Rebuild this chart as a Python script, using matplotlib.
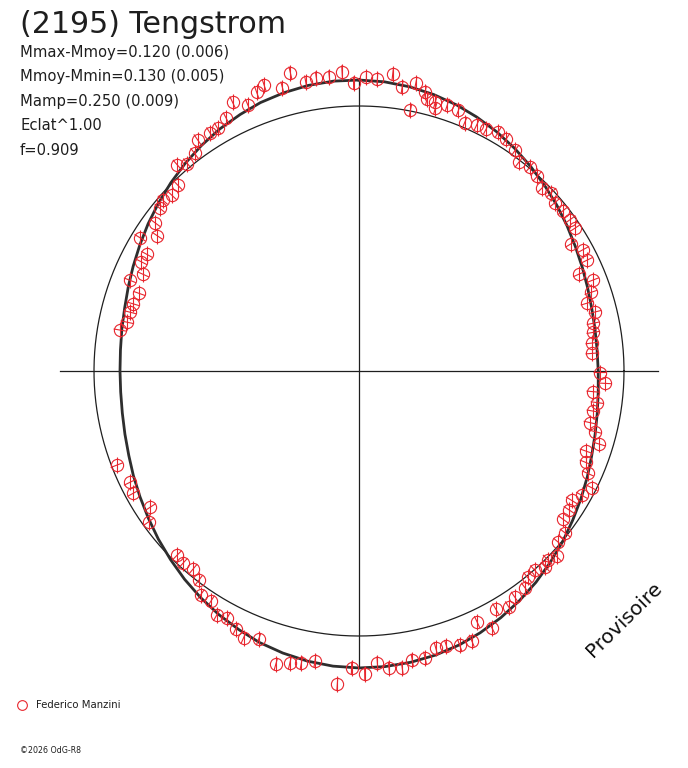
#!/usr/bin/env python3
"""
Polar lightcurve plot for (2195) Tengstrom
Phase runs clockwise from the top, radius grows with brightness
"""

import numpy as np
import matplotlib.pyplot as plt
from matplotlib.collections import LineCollection

plt.rcParams['font.family'] = ['DejaVu Sans']

TITLE = '(2195) Tengstrom'
STATS = [
    'Mmax-Mmoy=0.120 (0.006)',
    'Mmoy-Mmin=0.130 (0.005)',
    'Mamp=0.250 (0.009)',
    'Eclat^1.00',
    'f=0.909',
]
OBSERVER = 'Federico Manzini'
STAMP = '\u00a92026 OdG-R8'
WATERMARK = 'Provisoire'

# Fourier fit, magnitude relative to mean (positive = fainter)
FIT_PHASE = [0.000, 0.014, 0.028, 0.042, 0.056, 0.069, 0.083, 0.097, 0.111, 0.125,
             0.139, 0.153, 0.167, 0.181, 0.194, 0.208, 0.222, 0.236, 0.250, 0.264,
             0.278, 0.292, 0.306, 0.319, 0.333, 0.347, 0.361, 0.375, 0.389, 0.403,
             0.417, 0.431, 0.444, 0.458, 0.472, 0.486, 0.500, 0.514, 0.528, 0.542,
             0.556, 0.569, 0.583, 0.597, 0.611, 0.625, 0.639, 0.653, 0.667, 0.681,
             0.694, 0.708, 0.722, 0.736, 0.750, 0.764, 0.778, 0.792, 0.806, 0.819,
             0.833, 0.847, 0.861, 0.875, 0.889, 0.903, 0.917, 0.931, 0.944, 0.958,
             0.972, 0.986]
FIT_DMAG = [-0.113, -0.110, -0.103, -0.093, -0.080, -0.065, -0.048, -0.029, -0.009, 0.011,
            0.030, 0.049, 0.067, 0.082, 0.094, 0.104, 0.110, 0.113, 0.112, 0.108,
            0.100, 0.089, 0.075, 0.058, 0.039, 0.019, -0.003, -0.024, -0.046, -0.066,
            -0.085, -0.102, -0.116, -0.127, -0.134, -0.138, -0.139, -0.136, -0.129, -0.118,
            -0.105, -0.088, -0.070, -0.050, -0.029, -0.007, 0.014, 0.035, 0.054, 0.071,
            0.086, 0.098, 0.107, 0.112, 0.113, 0.111, 0.105, 0.097, 0.084, 0.070,
            0.053, 0.034, 0.015, -0.005, -0.025, -0.044, -0.062, -0.077, -0.091, -0.101,
            -0.109, -0.113]

# observations
OBS_PHASE = [0.777, 0.783, 0.790, 0.796, 0.804, 0.810, 0.817, 0.824, 0.830, 0.837,
             0.844, 0.850, 0.859, 0.864, 0.870, 0.877, 0.885, 0.890, 0.897, 0.903,
             0.911, 0.916, 0.923, 0.930, 0.937, 0.944, 0.949, 0.958, 0.964, 0.971,
             0.977, 0.984, 0.991, 0.997, 0.004, 0.010, 0.018, 0.024, 0.031, 0.031,
             0.037, 0.039, 0.044, 0.045, 0.051, 0.058, 0.064, 0.071, 0.077, 0.084,
             0.090, 0.098, 0.104, 0.111, 0.118, 0.125, 0.131, 0.137, 0.144, 0.151,
             0.157, 0.164, 0.171, 0.178, 0.184, 0.191, 0.198, 0.204, 0.211, 0.218,
             0.224, 0.231, 0.238, 0.251, 0.258, 0.264, 0.271, 0.277, 0.285, 0.290,
             0.297, 0.304, 0.311, 0.317, 0.324, 0.331, 0.337, 0.343, 0.350, 0.356,
             0.363, 0.370, 0.375, 0.379, 0.385, 0.391, 0.396, 0.404, 0.410, 0.417,
             0.424, 0.430, 0.437, 0.444, 0.451, 0.457, 0.464, 0.471, 0.477, 0.484,
             0.490, 0.497, 0.504, 0.511, 0.524, 0.531, 0.537, 0.544, 0.557, 0.565,
             0.571, 0.578, 0.584, 0.591, 0.598, 0.604, 0.611, 0.618, 0.624, 0.651,
             0.658, 0.671, 0.678, 0.691]
OBS_DMAG = [0.098, 0.121, 0.124, 0.126, 0.139, 0.081, 0.123, 0.093, 0.100, 0.038,
            0.096, 0.057, 0.034, 0.021, 0.036, 0.024, -0.043, -0.018, -0.034, -0.074,
            -0.069, -0.069, -0.089, -0.139, -0.103, -0.140, -0.157, -0.123, -0.178, -0.126,
            -0.135, -0.133, -0.150, -0.100, -0.127, -0.120, -0.147, -0.097, -0.123, -0.004,
            -0.094, -0.067, -0.063, -0.038, -0.067, -0.061, -0.020, -0.034, -0.038, -0.050,
            -0.044, -0.024, 0.010, -0.005, 0.004, 0.024, 0.011, 0.030, 0.025, 0.022,
            0.026, 0.078, 0.043, 0.050, 0.107, 0.060, 0.088, 0.118, 0.094, 0.113,
            0.121, 0.132, 0.136, 0.104, 0.081, 0.131, 0.108, 0.120, 0.123, 0.092,
            0.061, 0.106, 0.089, 0.062, 0.020, 0.043, 0.070, 0.057, 0.054, 0.013,
            0.009, -0.026, -0.007, -0.023, -0.003, -0.007, -0.036, -0.042, -0.063, -0.042,
            -0.108, -0.054, -0.119, -0.117, -0.103, -0.098, -0.128, -0.126, -0.153, -0.146,
            -0.120, -0.165, -0.140, -0.212, -0.123, -0.141, -0.153, -0.173, -0.093, -0.112,
            -0.090, -0.063, -0.077, -0.037, -0.040, 0.005, 0.029, 0.020, 0.027, 0.027,
            0.068, 0.036, 0.044, 0.022]

# layout (pixels)
W, H = 688, 768
CX, CY = 359, 371
R_MEAN = 265
PX_PER_MAG = 230
RED = '#e8262e'
INK = '#1e1e1e'


def to_xy(phase, dmag):
    """phase/magnitude -> pixel position on the polar diagram"""
    theta = 2 * np.pi * np.asarray(phase)
    r = R_MEAN - PX_PER_MAG * np.asarray(dmag)
    return CX + r * np.sin(theta), CY - r * np.cos(theta), theta


fig = plt.figure(figsize=(W / 100, H / 100), dpi=100)
ax = fig.add_axes([0, 0, 1, 1])
ax.set_xlim(0, W)
ax.set_ylim(H, 0)
ax.axis('off')

# cross and mean circle
ax.plot([60, 658], [CY, CY], color=INK, lw=0.9)
ax.plot([CX, CX], [78, 668], color=INK, lw=0.9)
t = np.linspace(0, 2 * np.pi, 400)
ax.plot(CX + R_MEAN * np.cos(t), CY + R_MEAN * np.sin(t), color=INK, lw=0.9)

# fit curve
fx, fy, _ = to_xy(FIT_PHASE + FIT_PHASE[:1], FIT_DMAG + FIT_DMAG[:1])
ax.plot(fx, fy, color='#2e2e2e', lw=2.0, solid_joinstyle='round')

# observations: circle + vertical bar + radial tick
ox, oy, th = to_xy(OBS_PHASE, OBS_DMAG)
vert = [[(x, y - 8), (x, y + 8)] for x, y in zip(ox, oy)]
rad = [[(x - 6.5 * np.sin(a), y + 6.5 * np.cos(a)),
        (x + 6.5 * np.sin(a), y - 6.5 * np.cos(a))] for x, y, a in zip(ox, oy, th)]
ax.add_collection(LineCollection(vert, colors=RED, linewidths=0.8, zorder=4))
ax.add_collection(LineCollection(rad, colors=RED, linewidths=0.8, zorder=4))
ax.plot(ox, oy, 'o', ms=8.8, mfc='none', mec=RED, mew=0.8, zorder=5)

# texts
ax.text(20, 33, TITLE, fontsize=21.6, color=INK, va='baseline', ha='left')
for i, line in enumerate(STATS):
    ax.text(20, 57 + 24.5 * i, line, fontsize=10.6, color=INK, va='baseline', ha='left')

ax.plot([22], [705], 'o', ms=7, mfc='none', mec=RED, mew=0.8)
ax.text(36, 708, OBSERVER, fontsize=7.3, color=INK, va='baseline', ha='left')
ax.text(20, 753, STAMP, fontsize=5.7, color=INK, va='baseline', ha='left')

ax.text(624, 620, WATERMARK, fontsize=14.5, color='#111111', rotation=44.5,
        rotation_mode='anchor', ha='center', va='center')

fig.savefig('out.png', dpi=100)
